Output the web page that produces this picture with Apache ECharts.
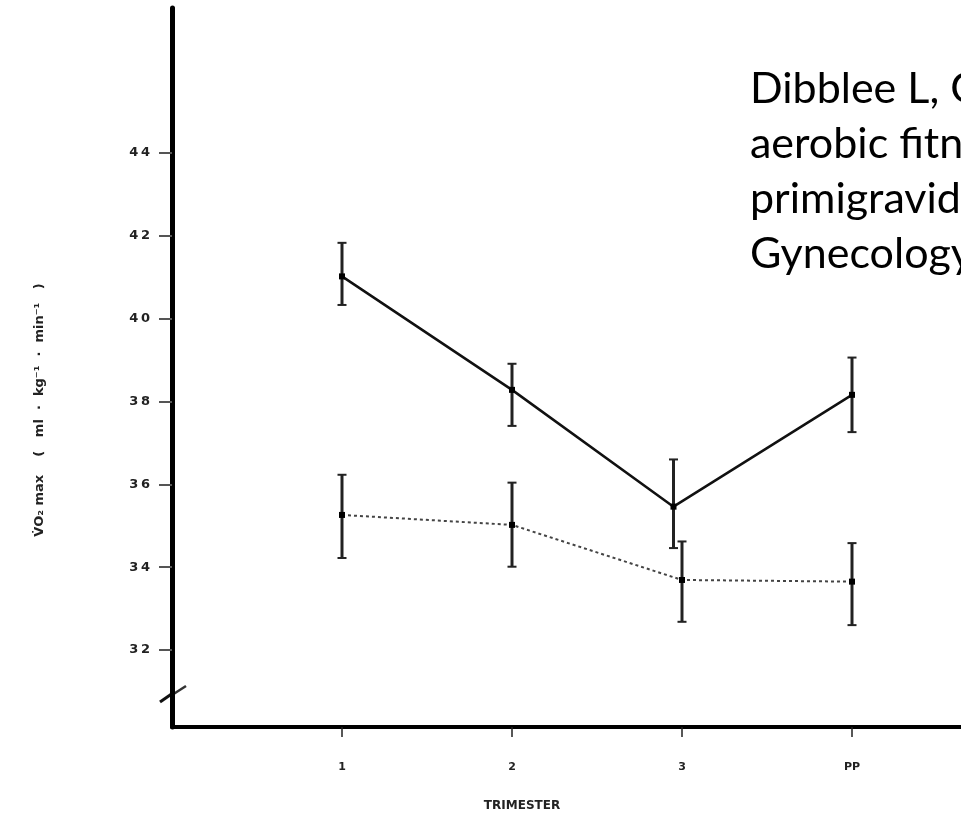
<!DOCTYPE html>
<html>
<head>
<meta charset="utf-8">
<script src="https://cdn.jsdelivr.net/npm/echarts@6/dist/echarts.min.js"></script>
<style>
html,body{margin:0;padding:0;background:#fff;}
#c{width:961px;height:814px;}
</style>
</head>
<body>
<div id="c"></div>
<script>
// ---- data ----
const categories = ['1', '2', '3', 'PP'];
const catPos = [1, 2, 3, 4];
const yTicks = [32, 34, 36, 38, 40, 42, 44];

// solid series (upper)
const upperX = [1, 2, 2.95, 4];
const upperMean = [41.02, 38.28, 35.46, 38.16];
const upperLow = [40.33, 37.41, 34.46, 37.26];
const upperHigh = [41.83, 38.91, 36.60, 39.06];

// dotted series (lower)
const lowerX = [1, 2, 3, 4];
const lowerMean = [35.26, 35.02, 33.69, 33.65];
const lowerLow = [34.22, 34.01, 32.68, 32.60];
const lowerHigh = [36.23, 36.04, 34.62, 34.58];

const yAxisTitle = 'V\u0307O\u2082 max    (   ml  \u00B7  kg\u207B\u00B9  \u00B7  min\u207B\u00B9   )';
const xAxisTitle = 'TRIMESTER';
const citation = [
  'Dibblee L, Graham TE. A longitudinal study of',
  'aerobic fitness, body composition and',
  'primigravid patients. American Journal of',
  'Gynecology'
];

// ---- build ----
const chart = echarts.init(document.getElementById('c'), null, {renderer: 'canvas'});

function pairs(xs, ys) { return xs.map((x, i) => [x, ys[i]]); }
function bars(xs, lo, hi) { return xs.map((x, i) => [x, lo[i], hi[i]]); }

function errRender(width, color) {
  return function (params, api) {
    const x = api.value(0);
    const top = api.coord([x, api.value(2)]);
    const bot = api.coord([x, api.value(1)]);
    const cw = 4.5;
    return {
      type: 'group',
      children: [
        {type: 'line', shape: {x1: top[0], y1: top[1], x2: bot[0], y2: bot[1]}, style: {stroke: color, lineWidth: width}},
        {type: 'line', shape: {x1: top[0] - cw, y1: top[1], x2: top[0] + cw, y2: top[1]}, style: {stroke: color, lineWidth: 2}},
        {type: 'line', shape: {x1: bot[0] - cw, y1: bot[1], x2: bot[0] + cw, y2: bot[1]}, style: {stroke: color, lineWidth: 2}}
      ]
    };
  };
}

const gridLeft = 172, gridTop = 8, gridBottom = 87, gridRight = 0;
const plotW = 961 - gridLeft - gridRight;
const xUnit = 170;
const yMin = 30.14, yMax = 47.5;

const option = {
  animation: false,
  backgroundColor: '#ffffff',
  grid: {left: gridLeft, top: gridTop, right: gridRight, bottom: gridBottom, containLabel: false},
  xAxis: {
    type: 'value',
    min: 0,
    max: plotW / xUnit,
    axisLine: {show: true, onZero: false, lineStyle: {color: '#000', width: 4}},
    axisTick: {show: true, customValues: catPos, length: 10, lineStyle: {color: '#222', width: 1.5}},
    axisLabel: {
      show: true,
      customValues: catPos,
      margin: 35,
      formatter: v => categories[Math.round(v) - 1] || '',
      fontFamily: '"DejaVu Sans", sans-serif',
      fontWeight: 'bold',
      fontSize: 11,
      color: '#222'
    },
    splitLine: {show: false}
  },
  yAxis: {
    type: 'value',
    min: yMin,
    max: yMax,
    axisLine: {show: true, onZero: false, lineStyle: {color: '#000', width: 5}},
    axisTick: {show: true, customValues: yTicks, length: 13, lineStyle: {color: '#555', width: 2}},
    axisLabel: {
      show: true,
      customValues: yTicks,
      margin: 22,
      formatter: v => String(v).split('').join('\u2009'),
      fontFamily: '"DejaVu Sans", sans-serif',
      fontWeight: 'bold',
      fontSize: 13,
      color: '#222'
    },
    splitLine: {show: false}
  },
  graphic: [
    {
      type: 'text',
      left: 750,
      top: 62,
      silent: true,
      style: {
        text: citation.join('\n'),
        font: '43px Lato, "Open Sans", sans-serif',
        lineHeight: 55,
        fill: '#000'
      }
    },
    {
      type: 'text',
      x: 40,
      y: 410,
      rotation: Math.PI / 2,
      silent: true,
      style: {
        text: yAxisTitle,
        font: 'bold 13px "DejaVu Sans", sans-serif',
        fill: '#222',
        align: 'center',
        verticalAlign: 'middle'
      }
    },
    {
      type: 'text',
      x: 522,
      y: 806,
      silent: true,
      style: {
        text: xAxisTitle,
        font: 'bold 12px "DejaVu Sans", sans-serif',
        fill: '#222',
        align: 'center',
        verticalAlign: 'middle'
      }
    },
    {
      type: 'group',
      silent: true,
      children: [
        {type: 'line', shape: {x1: 160, y1: 702, x2: 173, y2: 693}, style: {stroke: '#111', lineWidth: 3}},
        {type: 'line', shape: {x1: 172, y1: 695, x2: 186, y2: 686}, style: {stroke: '#333', lineWidth: 2.5}}
      ]
    }
  ],
  series: [
    {
      type: 'line',
      data: pairs(upperX, upperMean),
      symbol: 'rect',
      symbolSize: 6,
      lineStyle: {color: '#111', width: 2.5, type: 'solid'},
      itemStyle: {color: '#000'},
      z: 3
    },
    {
      type: 'line',
      data: pairs(lowerX, lowerMean),
      symbol: 'rect',
      symbolSize: 6,
      lineStyle: {color: '#444', width: 2, type: [3, 3]},
      itemStyle: {color: '#000'},
      z: 3
    },
    {
      type: 'custom',
      renderItem: errRender(3, '#222'),
      data: bars(upperX, upperLow, upperHigh),
      encode: {x: 0, y: [1, 2]},
      z: 2
    },
    {
      type: 'custom',
      renderItem: errRender(3, '#222'),
      data: bars(lowerX, lowerLow, lowerHigh),
      encode: {x: 0, y: [1, 2]},
      z: 2
    }
  ]
};
chart.setOption(option);
</script>
</body>
</html>
